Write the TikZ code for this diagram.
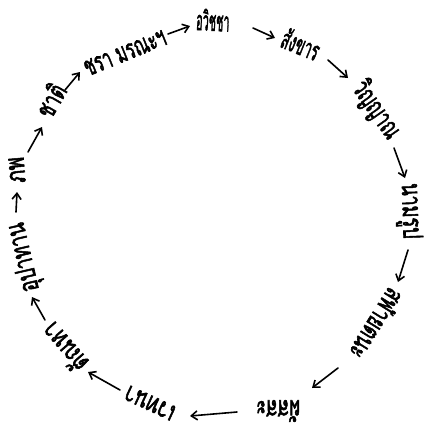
\documentclass[tikz,border=0pt]{standalone}
\usepackage{fontspec}
\usepackage{graphicx}
\newfontfamily\thaifont[Script=Thai,FakeBold=2.5]{Loma}
\newcommand\tw[2][1]{\scalebox{#1}[1.5]{#2}}
\usetikzlibrary{arrows.meta}
\begin{document}
\begin{tikzpicture}[x=1pt,y=-1pt,
  word/.style={font=\thaifont\fontsize{18}{18}\selectfont, inner sep=0pt},
  arr/.style={line width=1.6pt, line cap=round, -{Straight Barb[length=6pt,width=9pt,line width=1.6pt]}}]
\useasboundingbox (0,0) rectangle (425,434);
\node[word, rotate=-3]   (avijja)   at (213,20)  {\tw[0.6]{อวิชชา}};
\node[word, rotate=-22]  (sankhara) at (301,44)  {\tw[0.75]{สังขาร}};
\node[word, rotate=-55]  (vinnana)  at (376,110) {\tw[0.95]{วิญญาณ}};
\node[word, rotate=-88]  (namarupa) at (409,211) {\tw[1.0]{นามรูป}};
\node[word, rotate=-122] (salayat)  at (377,324) {\tw[1.0]{สฬายตนะ}};
\node[word, rotate=180]  (phassa)   at (278,411) {\tw[1.05]{ผัสสะ}};
\node[word, rotate=155]  (vedana)   at (150,403) {\tw[1.05]{เวทนา}};
\node[word, rotate=131]  (tanha)    at (64,348)  {\tw[1.1]{ตัณหา}};
\node[word, rotate=103]  (upadana)  at (25,257)  {\tw[1.05]{อุปาทาน}};
\node[word, rotate=95]   (bhava)    at (17,170)  {\tw[1.1]{ภพ}};
\node[word, rotate=60]   (jati)     at (50,100)  {\tw[1.0]{ชาติ}};
\node[word, rotate=22]   (jara)     at (125,53)  {\tw[0.9]{ชรา มรณะฯ}};
\coordinate (a1s) at (168,34);  \coordinate (a1e) at (190,26);
\coordinate (a2s) at (253,28);  \coordinate (a2e) at (275,38);
\coordinate (a3s) at (328,60);  \coordinate (a3e) at (348,78);
\coordinate (a4s) at (394,148); \coordinate (a4e) at (405,178);
\coordinate (a5s) at (408,250); \coordinate (a5e) at (398,282);
\coordinate (a6s) at (338,368); \coordinate (a6e) at (312,388);
\coordinate (a7s) at (237,412); \coordinate (a7e) at (190,416);
\coordinate (a8s) at (120,390); \coordinate (a8e) at (88,372);
\coordinate (a9s) at (45,320);  \coordinate (a9e) at (32,297);
\coordinate (a10s) at (16,212); \coordinate (a10e) at (17,192);
\coordinate (a11s) at (28,152); \coordinate (a11e) at (42,127);
\coordinate (a12s) at (65,90);  \coordinate (a12e) at (80,72);
\foreach \i in {1,...,12} { \draw[arr] (a\i s) -- (a\i e); }
\end{tikzpicture}
\end{document}
